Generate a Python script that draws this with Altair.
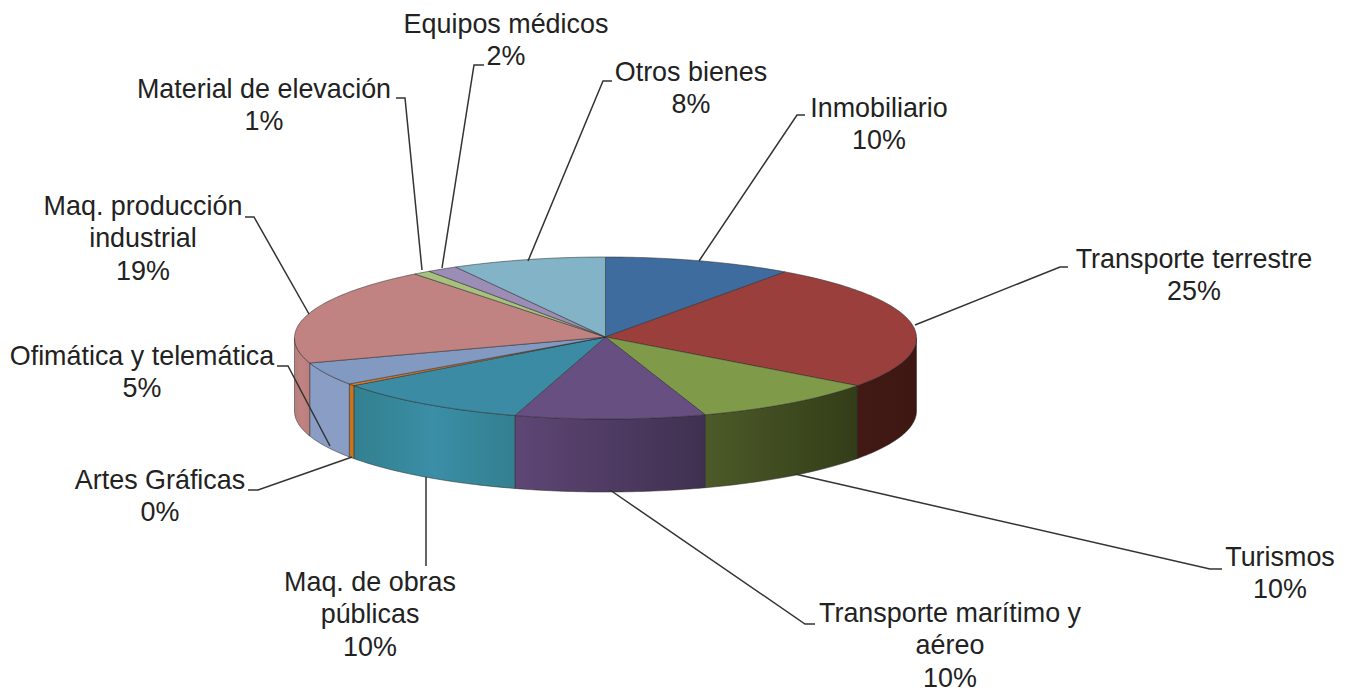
import math
import altair as alt
import pandas as pd

# --- chart values -----------------------------------------------------------
categories = ["Inmobiliario", "Transporte terrestre", "Turismos",
              "Transporte marítimo y\naéreo", "Maq. de obras\npúblicas",
              "Artes Gráficas", "Ofimática y telemática",
              "Maq. producción\nindustrial", "Material de elevación",
              "Equipos médicos", "Otros bienes"]
values = [9.8, 25.2, 9.8, 9.9, 10.3, 0.4, 4.6, 19.49, 0.9, 1.6, 8.0]

# --- styles -----------------------------------------------------------------
top_colors = ["#3F6C9F", "#9B3F3C", "#7F9B4A", "#674F82", "#3A8BA3", "#E07B21",
              "#8299C2", "#C08381", "#A6C27E", "#9B8DB5", "#82B3C7"]
wall_colors = {
    1: ("#421914", "#3E1713"),
    2: ("#4C5A28", "#333D18"),
    3: ("#5E4675", "#3F3050"),
    4: ("#3A8EA6", "#33808F"),
    5: ("#C9731F", "#C9731F"),
    6: ("#8A9DC4", "#8A9DC4"),
    7: ("#C08381", "#B87F7D"),
}

# --- layout (image pixels) --------------------------------------------------
CX, CY, RX, RY, DEPTH = 605.5, 338, 311, 81, 73
label_xy = [(879, 108), (1194, 259), (1280, 557), (950, 613), (370, 582),
            (160, 480), (142, 356), (143, 206), (264, 89), (506, 24), (691, 72)]
leaders = [
    [(805, 115), (797, 115), (699, 261)],
    [(1068, 267), (1060, 267), (915, 325)],
    [(1222, 569), (1210, 569), (795, 474)],
    [(815, 624), (805, 624), (610, 490)],
    [(426, 566), (426, 477)],
    [(248, 490), (258, 490), (352, 457)],
    [(277, 366), (288, 366), (330, 446)],
    [(245, 217), (254, 217), (309, 314)],
    [(396, 98), (405, 98), (422, 270)],
    [(484, 65), (474, 65), (442, 268)],
    [(612, 81), (603, 81), (528, 261)],
]

W, H = 1335, 680
x_enc = alt.X("x:Q", axis=None, scale=alt.Scale(domain=[8, 8 + W]))
y_enc = alt.Y("y:Q", axis=None, scale=alt.Scale(domain=[8 + H, 8]))


def rim(a, dy=0.0):
    r = math.radians(a)
    return (CX + RX * math.sin(r), CY - RY * math.cos(r) + dy)


def arc(a0, a1):
    n = max(2, int(abs(a1 - a0) / 1.0) + 2)
    return [a0 + (a1 - a0) * i / (n - 1) for i in range(n)]


def poly(points, fill, stroke="#2b2b2b", sw=0.7):
    pts = list(points) + [points[0]]
    df = pd.DataFrame({"x": [p[0] for p in pts], "y": [p[1] for p in pts],
                       "i": list(range(len(pts)))})
    return alt.Chart(df).mark_line(fill=fill, stroke=stroke, strokeWidth=sw,
                                   strokeOpacity=0.75, strokeJoin="round").encode(
        x=x_enc, y=y_enc, order="i:Q")


total = sum(values)
bounds = [0.0]
for v in values:
    bounds.append(bounds[-1] + v / total * 360)

layers = []
# side walls (only the front half of the rim is visible)
for i in range(len(values)):
    a0, a1 = max(bounds[i], 90), min(bounds[i + 1], 270)
    if a1 <= a0:
        continue
    c0, c1 = wall_colors[i]
    stops = [alt.GradientStop(color=c0, offset=0), alt.GradientStop(color=c1, offset=1)]
    if i in (4, 5, 6, 7):
        stops = [alt.GradientStop(color=c1, offset=0),
                 alt.GradientStop(color=c0, offset=0.5),
                 alt.GradientStop(color=c1, offset=1)]
    fill = alt.LinearGradient(gradient="linear", x1=0, x2=1, y1=0, y2=0, stops=stops)
    as_ = arc(a0, a1)
    pts = [rim(a) for a in as_] + [rim(a, DEPTH) for a in reversed(as_)]
    layers.append(poly(pts, fill))

# top surface
for i, c in enumerate(top_colors):
    pts = [(CX, CY - 1)] + [rim(a) for a in arc(bounds[i], bounds[i + 1])]
    layers.append(poly(pts, c))

# leader lines
rows = []
for k, seg in enumerate(leaders):
    for j, (px, py) in enumerate(seg):
        rows.append({"k": k, "j": j, "x": px, "y": py})
layers.append(alt.Chart(pd.DataFrame(rows)).mark_line(
    color="#333333", strokeWidth=1.5).encode(
    x=x_enc, y=y_enc, detail="k:N", order="j:Q"))

# labels
lab = pd.DataFrame({
    "t": [f"{c}\n{round(v)}%" for c, v in zip(categories, values)],
    "x": [p[0] for p in label_xy],
    "y": [p[1] for p in label_xy],
})
layers.append(alt.Chart(lab).mark_text(
    font="Liberation Sans", fontSize=26.9, color="#222222", align="center",
    baseline="middle", lineBreak="\n", lineHeight=32.4, dy=0.8).encode(
    x=x_enc, y=y_enc, text="t:N"))

chart = alt.layer(*layers).properties(
    width=W, height=H, padding=0, background="white",
    autosize=alt.AutoSizeParams(type="none"),
).configure_view(stroke=None)

chart.save("out.html", embed_options={"renderer": "svg", "actions": False})
